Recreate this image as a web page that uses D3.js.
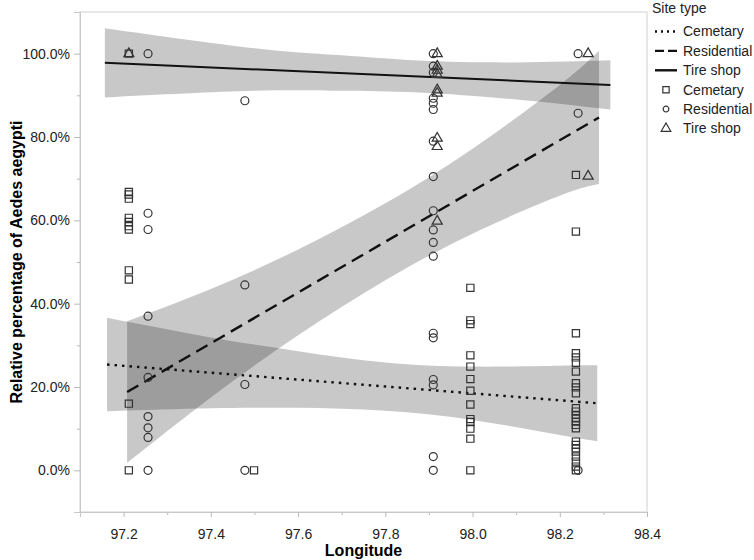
<!DOCTYPE html>
<html>
<head>
<meta charset="utf-8">
<script src="https://cdn.jsdelivr.net/npm/d3@7"></script>
<style>
  body { margin: 0; background: #fff; }
  svg { font-family: "Liberation Sans", Arial, sans-serif; }
</style>
</head>
<body>
<svg id="chart" width="754" height="560"></svg>
<script>
// values: [longitude, percent]
const siteTypes = ["Cemetary", "Residential", "Tire shop"];

const cemeteryPoints = [
  [97.212, 0], [97.212, 16], [97.212, 45.8], [97.212, 48], [97.212, 57.8], [97.212, 58.6],
  [97.212, 59.6], [97.212, 60.6], [97.212, 65.2], [97.212, 66.2], [97.212, 66.8], [97.212, 100],
  [97.499, 0],
  [97.995, 0], [97.995, 7.6], [97.995, 10], [97.995, 11.6], [97.995, 12.3], [97.995, 15.8],
  [97.995, 19.1], [97.995, 21.9], [97.995, 24.9], [97.995, 27.6], [97.995, 35.1], [97.995, 36], [97.995, 43.8],
  [98.237, 0], [98.237, 0.9], [98.237, 2.1], [98.237, 3.3], [98.237, 4.5], [98.237, 5.3], [98.237, 6.1],
  [98.237, 6.9], [98.237, 10.1], [98.237, 10.9], [98.237, 11.7], [98.237, 12.5], [98.237, 13.3],
  [98.237, 14.1], [98.237, 14.9], [98.237, 18.5], [98.237, 19.9], [98.237, 20.9], [98.237, 23.7],
  [98.237, 25.8], [98.237, 27.1], [98.237, 28.1], [98.237, 32.9], [98.237, 57.3], [98.237, 70.9]
];

const residentialPoints = [
  [97.256, 0], [97.256, 7.9], [97.256, 10.2], [97.256, 12.9], [97.256, 22.3], [97.256, 37],
  [97.256, 57.8], [97.256, 61.7], [97.256, 100],
  [97.478, 0], [97.478, 20.6], [97.478, 44.5], [97.478, 88.7],
  [97.91, 0], [97.91, 3.3], [97.91, 20.5], [97.91, 21.8], [97.91, 31.8], [97.91, 32.9],
  [97.91, 51.4], [97.91, 54.7], [97.91, 57.7], [97.91, 62.3], [97.91, 70.5], [97.91, 79],
  [97.91, 86.6], [97.91, 88.1], [97.91, 89.3], [97.91, 95.5], [97.91, 97], [97.91, 100],
  [98.242, 0], [98.242, 85.7], [98.242, 100]
];

const tireShopPoints = [
  [97.212, 100],
  [97.919, 59.8], [97.919, 77.7], [97.919, 79.7], [97.919, 90.5], [97.919, 91.3],
  [97.919, 95], [97.919, 96], [97.919, 97], [97.919, 100],
  [98.265, 70.6], [98.265, 100]
];

// fitted lines (end points) and confidence bands [longitude, low, high]
const cemeteryFit = [[97.162, 25.4], [98.286, 16.1]];
const residentialFit = [[97.208, 18.8], [98.29, 84.7]];
const tireShopFit = [[97.157, 97.8], [98.316, 92.5]];

const cemeteryBand = [
  [97.162, 14.2, 36.6], [97.4, 14.9, 31.9], [97.6, 15.0, 28.6], [97.8, 14.3, 25.9],
  [98.0, 12.1, 24.9], [98.2, 8.5, 25.1], [98.286, 7.0, 25.2]
];
const residentialBand = [
  [97.208, 1.8, 35.8], [97.4, 17.5, 43.5], [97.6, 32.4, 53.0], [97.8, 45.6, 64.1],
  [98.0, 56.8, 77.2], [98.2, 65.9, 92.5], [98.29, 68.7, 100.7]
];
const tireShopBand = [
  [97.157, 89.5, 106.1], [97.5, 91.1, 101.3], [97.7, 91.1, 99.6], [97.876, 90.7, 98.35],
  [98.1, 89.0, 97.9], [98.316, 86.6, 98.4]
];

const xMajorTicks = [97.2, 97.4, 97.6, 97.8, 98.0, 98.2, 98.4];
const xMinorTicks = [97.1, 97.3, 97.5, 97.7, 97.9, 98.1, 98.3];
const yMajorTicks = [0, 20, 40, 60, 80, 100];
const yMinorTicks = [-10, 10, 30, 50, 70, 90, 110];

const lineDash = ["2.5,5", "13,7", null];
const lineWidth = [2.4, 2.4, 2];

const svg = d3.select("#chart");
const plotLeft = 80, plotRight = 647, plotTop = 12, plotBottom = 512;

const x = d3.scaleLinear().domain([97.1, 98.4]).range([plotLeft, plotRight]);
const y = d3.scaleLinear().domain([-10, 110]).range([plotBottom, plotTop]);

// frame
svg.append("rect")
  .attr("x", plotLeft).attr("y", plotTop)
  .attr("width", plotRight - plotLeft).attr("height", plotBottom - plotTop)
  .attr("fill", "none").attr("stroke", "#d0d0d0").attr("stroke-width", 1);

// axes
function styleAxis(g) {
  g.select(".domain").attr("stroke", "#c8c8c8");
  g.selectAll(".tick line").attr("stroke", "#b8b8b8");
  g.selectAll(".tick text").attr("fill", "#222").style("font-size", "14px");
}

svg.append("g")
  .attr("transform", "translate(0," + plotBottom + ")")
  .call(d3.axisBottom(x).tickValues(xMinorTicks).tickSize(3).tickFormat(""))
  .call(styleAxis);
svg.append("g")
  .attr("transform", "translate(0," + plotBottom + ")")
  .call(d3.axisBottom(x).tickValues(xMajorTicks).tickSize(5).tickPadding(12).tickFormat(d3.format(".1f")))
  .call(styleAxis);

svg.append("g")
  .attr("transform", "translate(" + plotLeft + ",0)")
  .call(d3.axisLeft(y).tickValues(yMinorTicks).tickSize(3).tickFormat(""))
  .call(styleAxis);
svg.append("g")
  .attr("transform", "translate(" + plotLeft + ",0)")
  .call(d3.axisLeft(y).tickValues(yMajorTicks).tickSize(6).tickPadding(4).tickFormat(d => d.toFixed(1) + "%"))
  .call(styleAxis);

// axis titles
svg.append("text")
  .attr("x", (plotLeft + plotRight) / 2).attr("y", 556)
  .attr("text-anchor", "middle")
  .style("font-size", "16px").style("font-weight", "bold")
  .text("Longitude");

svg.append("text")
  .attr("transform", "translate(22," + ((plotTop + plotBottom) / 2) + ") rotate(-90)")
  .attr("text-anchor", "middle")
  .style("font-size", "16px").style("font-weight", "bold")
  .text("Relative percentage of Aedes aegypti");

// confidence bands
const area = d3.area()
  .x(d => x(d[0]))
  .y0(d => y(d[1]))
  .y1(d => y(d[2]))
  .curve(d3.curveNatural);

const plot = svg.append("g");
[cemeteryBand, residentialBand, tireShopBand].forEach(function(band) {
  plot.append("path")
    .datum(band)
    .attr("d", area)
    .attr("fill", "#000")
    .attr("fill-opacity", 0.215);
});

// fit lines
const line = d3.line().x(d => x(d[0])).y(d => y(d[1]));
[cemeteryFit, residentialFit, tireShopFit].forEach(function(fit, i) {
  plot.append("path")
    .datum(fit)
    .attr("d", line)
    .attr("fill", "none")
    .attr("stroke", "#111")
    .attr("stroke-width", lineWidth[i])
    .attr("stroke-dasharray", lineDash[i]);
});

// points
const symbols = [d3.symbolSquare, d3.symbolCircle, d3.symbolTriangle];
const symbolSizes = [52, 50, 44];
[cemeteryPoints, residentialPoints, tireShopPoints].forEach(function(pts, i) {
  plot.append("g")
    .selectAll("path")
    .data(pts)
    .enter().append("path")
    .attr("transform", d => "translate(" + x(d[0]) + "," + y(d[1]) + ")")
    .attr("d", d3.symbol().type(symbols[i]).size(symbolSizes[i]))
    .attr("fill", "none")
    .attr("stroke", "#333")
    .attr("stroke-width", 1.2);
});

// legend
const legend = svg.append("g").attr("transform", "translate(652,0)");
legend.append("text")
  .attr("x", 0).attr("y", 13)
  .style("font-size", "14px").attr("fill", "#222")
  .text("Site type");

siteTypes.forEach(function(name, i) {
  let ry = 31.5 + i * 19.4;
  legend.append("line")
    .attr("x1", 3).attr("x2", 25)
    .attr("y1", ry).attr("y2", ry)
    .attr("stroke", "#111")
    .attr("stroke-width", 2.4)
    .attr("stroke-dasharray", i == 0 ? "2,4" : (i == 1 ? "9,4" : null));
  legend.append("text")
    .attr("x", 31).attr("y", ry).attr("dy", "0.35em")
    .style("font-size", "14px").attr("fill", "#222")
    .text(name);
});

siteTypes.forEach(function(name, i) {
  let ry = 31.5 + (i + 3) * 19.4;
  legend.append("path")
    .attr("transform", "translate(14," + ry + ")")
    .attr("d", d3.symbol().type(symbols[i]).size(i == 1 ? 26 : 40))
    .attr("fill", "none")
    .attr("stroke", "#333")
    .attr("stroke-width", 1.2);
  legend.append("text")
    .attr("x", 31).attr("y", ry).attr("dy", "0.35em")
    .style("font-size", "14px").attr("fill", "#222")
    .text(name);
});
</script>
</body>
</html>
